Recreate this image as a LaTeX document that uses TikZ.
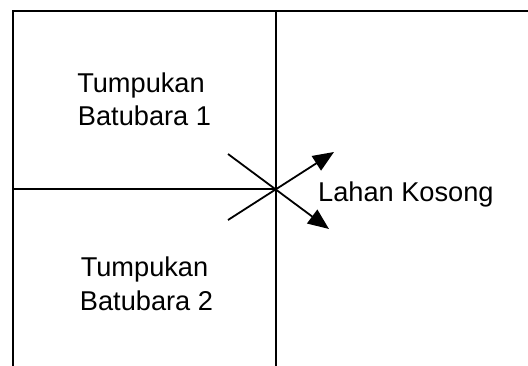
\documentclass[tikz,border=0pt]{standalone}
\usepackage{fontspec}
\setmainfont{Liberation Sans}
\usetikzlibrary{arrows.meta}
\begin{document}
\begin{tikzpicture}[x=1pt,y=1pt,
  wall/.style={line width=1.8pt, line cap=rect},
  flow/.style={line width=1.8pt, -{Triangle[length=21pt,width=17pt]}},
  lbl/.style={anchor=base, inner sep=0pt, font=\fontsize{27.2}{32}\selectfont}]
\useasboundingbox (0,0) rectangle (528,365);
% frame
\coordinate (tl) at (13,354);
\coordinate (tr) at (528,354);
\coordinate (bl) at (13,0);
\coordinate (mt) at (276,354);
\coordinate (mb) at (276,0);
\coordinate (hl) at (13,176);
\coordinate (hr) at (276,176);
\draw[wall] (tr) -- (tl) -- (bl);
\draw[wall] (mt) -- (mb);
\draw[wall] (hl) -- (hr);
% arrows
\coordinate (a1) at (228,211);
\coordinate (a2) at (329,136);
\coordinate (b1) at (228,145);
\coordinate (b2) at (334,213);
\draw[flow] (a1) -- (a2);
\draw[flow] (b1) -- (b2);
% labels
\node[lbl] (t1a) at (141,272) {Tumpukan};
\node[lbl] (t1b) at (144.5,240) {Batubara 1};
\node[lbl] (t2a) at (144.5,89) {Tumpukan};
\node[lbl] (t2b) at (146.5,55) {Batubara 2};
\node[lbl, anchor=base west] (lk) at (318,164) {Lahan Kosong};
\end{tikzpicture}
\end{document}
